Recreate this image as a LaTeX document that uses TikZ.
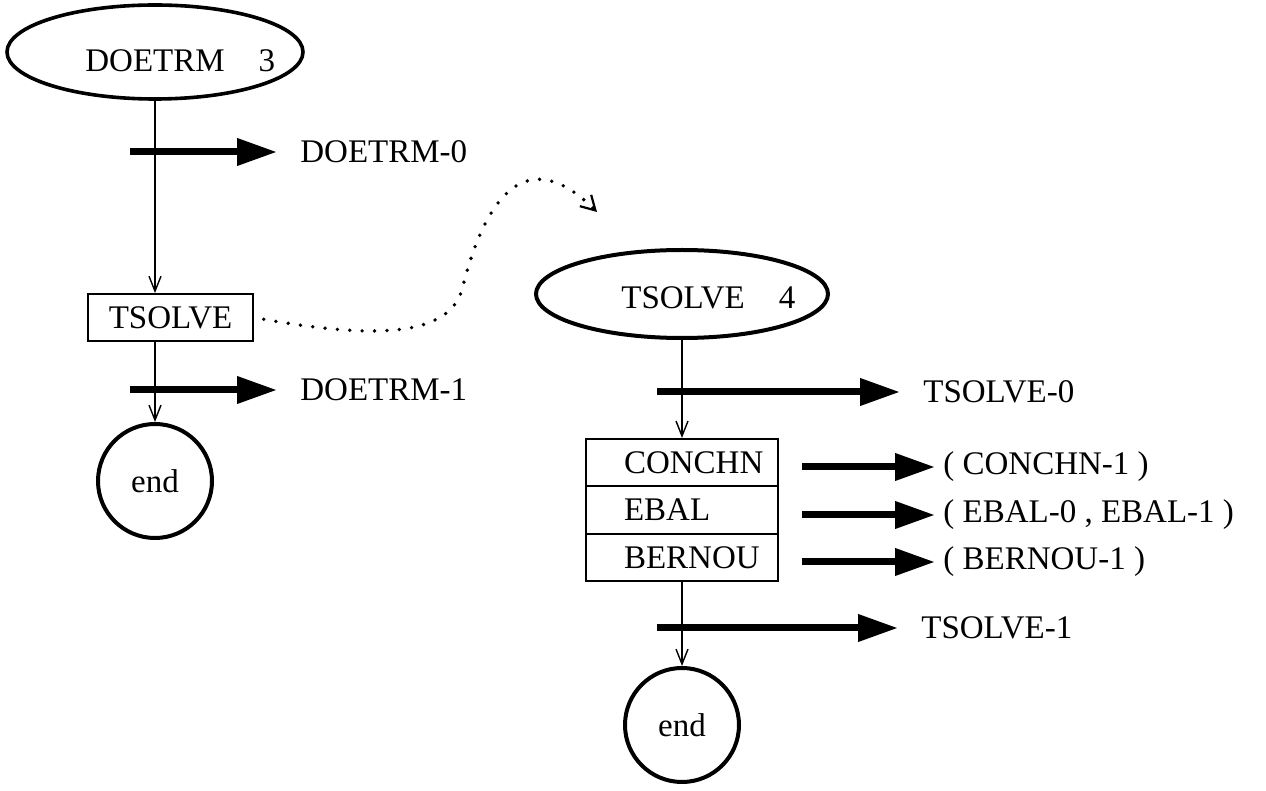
\documentclass[tikz,border=0pt]{standalone}
\usepackage{fontspec}
\setmainfont{Liberation Serif}
\usetikzlibrary{arrows.meta,shapes.geometric}
\begin{document}
\begin{tikzpicture}[x=0.5pt,y=-0.5pt,
  every node/.style={font=\fontsize{16.5}{19}\selectfont},
  ovalnode/.style={draw, ellipse, line width=1.8pt, minimum width=148pt, minimum height=47pt, inner sep=0pt},
  boxnode/.style={draw, rectangle, line width=0.9pt, inner sep=0pt},
  endnode/.style={draw, circle, line width=2pt, minimum size=57pt, inner sep=0pt},
  labelnode/.style={anchor=west, inner sep=0pt},
  flow/.style={line width=0.7pt, -{Straight Barb[length=7.5pt,width=6pt]}},
  bigarrow/.style={line width=3.5pt, -{Triangle[length=20pt,width=13pt]}, shorten >=#1},
  bigarrow/.default=11.5pt,
  calllink/.style={line width=1.9pt, dash pattern=on 0pt off 6.2pt, line cap=round, shorten <=5pt,
    -{Straight Barb[length=7pt,width=8pt,line width=1.1pt]}}
]
\useasboundingbox (0,0) rectangle (1266,791);

% ---- left: DOETRM ----
\node[ovalnode] (e1) at (155,52) {};
\node[anchor=base west, inner sep=0pt] (e1t) at (85,72) {DOETRM\hspace{17pt}3};
\node[boxnode, minimum width=82.5pt, minimum height=23.5pt] (t1) at (170.5,317.5) {TSOLVE};
\node[endnode] (c1) at (155,481) {end};
\coordinate (a0) at (130,152);
\node[labelnode] (l0) at (300,152) {DOETRM-0};
\coordinate (a1) at (130,390);
\node[labelnode] (l1) at (300,390) {DOETRM-1};

\draw[bigarrow] (a0) -- (l0.west);
\draw[bigarrow] (a1) -- (l1.west);
\draw[flow] (e1.south) -- (e1.south |- t1.north);
\draw[flow] (t1.south -| c1.north) -- (c1.north);

% ---- right: TSOLVE ----
\node[ovalnode, minimum width=146pt, minimum height=44pt, line width=2pt] (e2) at (682,294) {};
\node[anchor=base west, inner sep=0pt] (e2t) at (621,309) {TSOLVE\hspace{17pt}4};
\node[boxnode, minimum height=23.7pt] (b1) at (682,462.5) {\makebox[96pt][l]{\hspace{19pt}CONCHN}};
\node[boxnode, minimum height=23.7pt] (b2) at (682,510) {\makebox[96pt][l]{\hspace{19pt}EBAL}};
\node[boxnode, minimum height=23.7pt] (b3) at (682,557.5) {\makebox[96pt][l]{\hspace{19pt}BERNOU}};
\node[endnode] (c2) at (682,725) {end};

\coordinate (s0) at (657,392);
\node[labelnode] (m0) at (923,392) {TSOLVE-0};
\coordinate (s1) at (657,628);
\node[labelnode] (m1) at (921,628) {TSOLVE-1};
\coordinate (r1s) at (802,467);
\node[labelnode] (r1) at (943,467) {( CONCHN-1 )};
\coordinate (r2s) at (802,515);
\node[labelnode] (r2) at (943,515) {( EBAL-0 , EBAL-1 )};
\coordinate (r3s) at (802,562);
\node[labelnode] (r3) at (943,562) {( BERNOU-1 )};

\draw[bigarrow] (s0) -- (m0.west);
\draw[bigarrow] (s1) -- (m1.west);
\draw[bigarrow=4pt] (r1s) -- (r1.west);
\draw[bigarrow=4pt] (r2s) -- (r2.west);
\draw[bigarrow=4pt] (r3s) -- (r3.west);
\draw[flow] (e2.south) -- (b1.north);
\draw[flow] (b3.south) -- (c2.north);

% ---- dotted call link ----
\coordinate (dtip) at (597,212);
\draw[calllink] (t1.east) .. controls (380,340) and (448,335) .. (462,290)
  .. controls (484,200) and (525,140) .. (dtip);
\end{tikzpicture}
\end{document}
